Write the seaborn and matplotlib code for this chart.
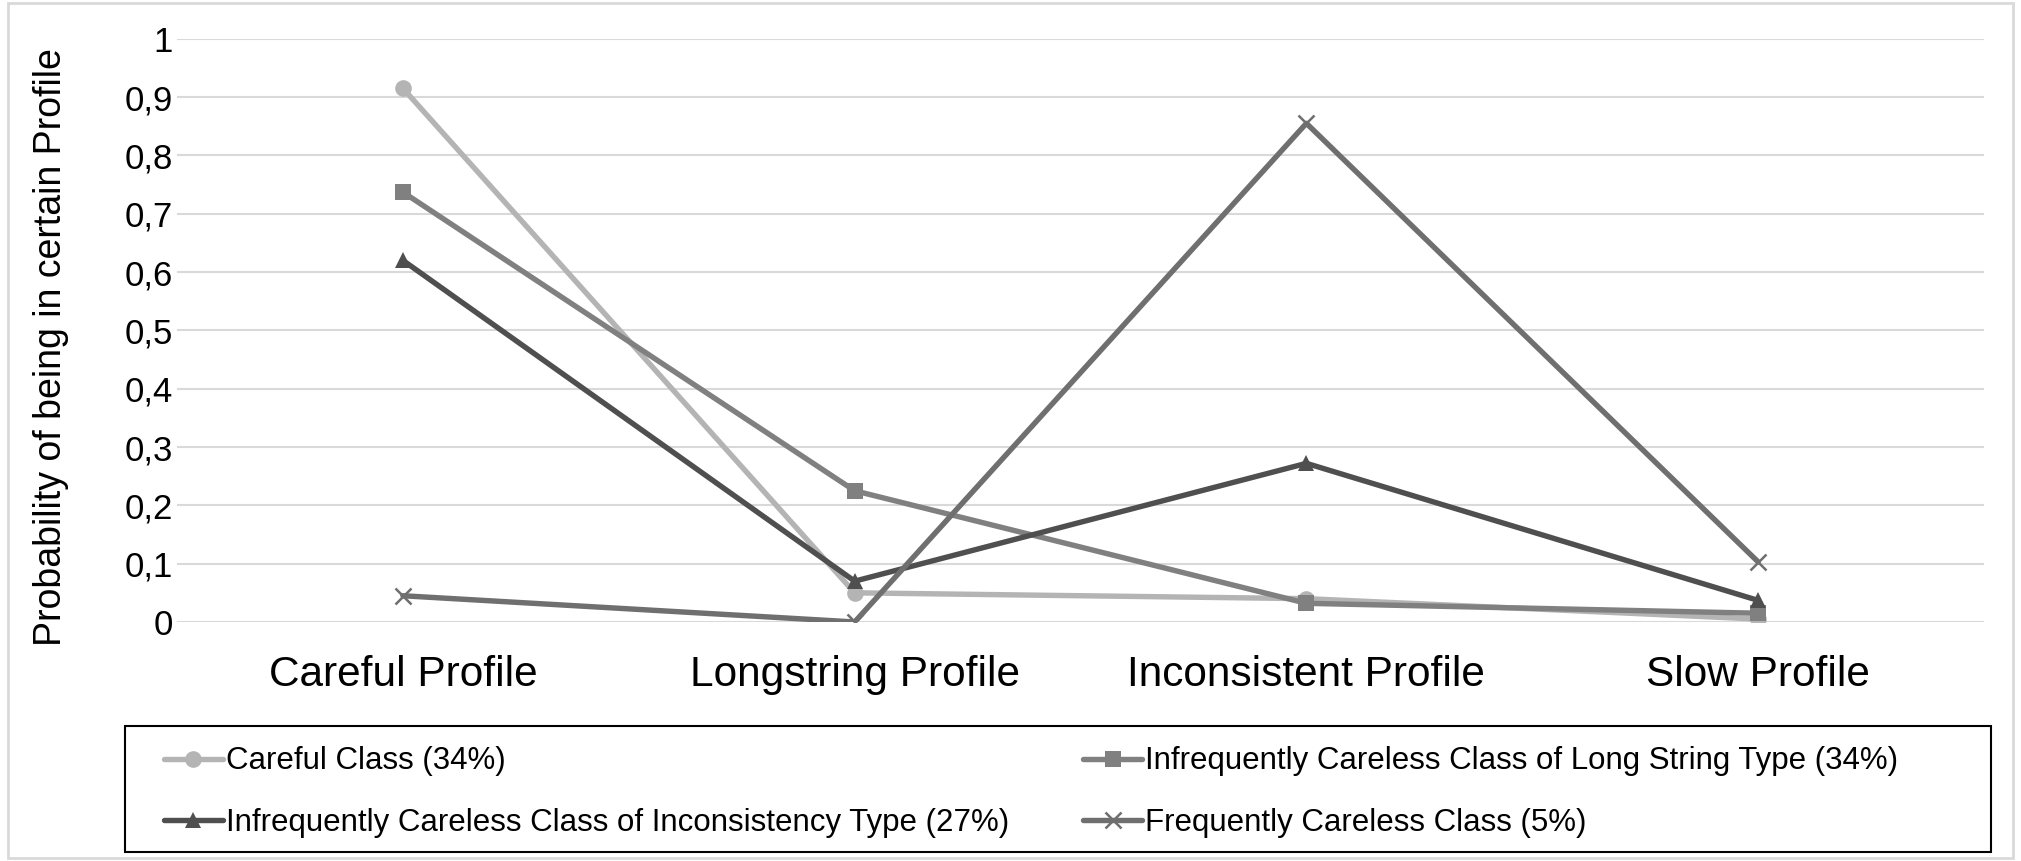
import matplotlib
matplotlib.use("Agg")
import matplotlib.pyplot as plt
import seaborn as sns
import pandas as pd
from matplotlib.patches import Rectangle
from matplotlib.ticker import FuncFormatter

categories = ["Careful Profile", "Longstring Profile", "Inconsistent Profile", "Slow Profile"]
series_names = [
    "Careful Class (34%)",
    "Infrequently Careless Class of Long String Type (34%)",
    "Infrequently Careless Class of Inconsistency Type (27%)",
    "Frequently Careless Class (5%)",
]
careful = [0.915, 0.050, 0.040, 0.005]
long_string = [0.737, 0.225, 0.032, 0.015]
inconsistency = [0.620, 0.070, 0.272, 0.037]
frequent = [0.045, 0.000, 0.855, 0.103]
y_ticks = [0, 0.1, 0.2, 0.3, 0.4, 0.5, 0.6, 0.7, 0.8, 0.9, 1.0]

values = [careful, long_string, inconsistency, frequent]
colors = ["#b4b4b4", "#808080", "#4f4f4f", "#6f6f6f"]
markers = ["o", "s", "^", "x"]

sns.set_theme(style="white")
plt.rcParams["font.family"] = ["Liberation Sans", "DejaVu Sans"]
plt.rcParams["text.color"] = "black"

fig = plt.figure(figsize=(20.21, 8.61), dpi=100)
ax = fig.add_axes([0.0876, 0.2776, 0.8941, 0.6774])

for name, vals, c, m in zip(series_names, values, colors, markers):
    df = pd.DataFrame({"profile": categories, "p": vals})
    sns.lineplot(data=df, x="profile", y="p", ax=ax, color=c, marker=m,
                 linewidth=3.9, markersize=12, markeredgecolor=c,
                 markeredgewidth=1.8 if m == "x" else 0, label=name, sort=False)

ax.set_xlim(-0.5, 3.5)
ax.set_ylim(0, 1)
ax.set_yticks(y_ticks)
ax.yaxis.set_major_formatter(FuncFormatter(lambda v, p: ("%g" % round(v, 1)).replace(".", ",")))
ax.grid(axis="y", color="#d9d9d9", linewidth=1.5)
ax.set_axisbelow(True)
for s in ax.spines.values():
    s.set_visible(False)
ax.tick_params(axis="y", labelsize=25, pad=3, length=0, labelcolor="black")
ax.tick_params(axis="x", labelsize=30.5, pad=24, length=0, labelcolor="black")
ax.set_xlabel("")
ax.set_ylabel("Probability of being in certain Profile", fontsize=27, color="black")
ax.yaxis.set_label_coords(-0.060, 0.472)

ax.get_legend().remove()
handles, labels = ax.get_legend_handles_labels()
order = [0, 2, 1, 3]
leg = fig.legend([handles[i] for i in order], [labels[i] for i in order], ncol=2,
                 loc="upper left", bbox_to_anchor=(0.081, 0.133),
                 fontsize=22.5, frameon=False, labelcolor="black",
                 handlelength=1.9, handletextpad=0.1, borderaxespad=0, borderpad=0,
                 labelspacing=1.0, columnspacing=2.35)

fig.patches.append(Rectangle((0.0619, 0.0105), 0.9231, 0.1465, transform=fig.transFigure,
                             fill=False, edgecolor="black", linewidth=1.5))
fig.patches.append(Rectangle((0.004, 0.004), 0.992, 0.992, transform=fig.transFigure,
                             fill=False, edgecolor="#d9d9d9", linewidth=2))

fig.savefig("out.png", dpi=100)
